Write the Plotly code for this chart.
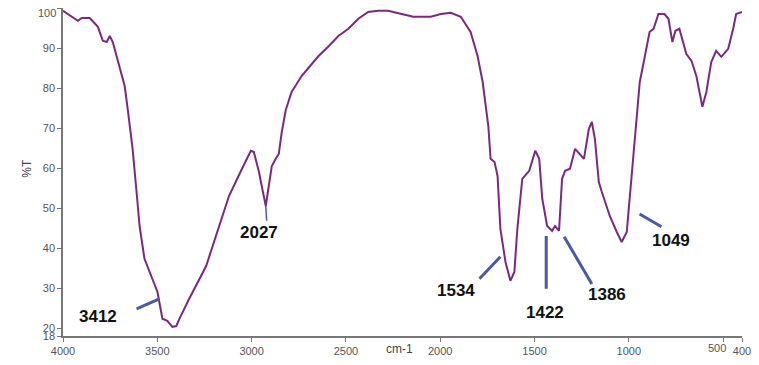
import plotly.graph_objects as go

# Wavenumber (cm-1) and transmittance (%T)
wavenumber = [4000, 3921, 3900, 3858, 3815, 3789, 3768, 3752, 3736, 3700, 3673, 3657, 3631,
              3610, 3594, 3568, 3541, 3499, 3473, 3447, 3420, 3399, 3383, 3331, 3241, 3172, 3120,
              3051, 3025, 3004, 2988, 2961, 2940, 2925, 2909, 2893, 2872, 2856, 2840, 2819,
              2788, 2751, 2735, 2690, 2645, 2590, 2540, 2487, 2434, 2382, 2329, 2276, 2208,
              2144, 2050, 1997, 1944, 1891, 1839, 1802, 1775, 1760, 1745, 1733, 1712, 1696,
              1681, 1654, 1628, 1607, 1591, 1565, 1528, 1496, 1475, 1459, 1433, 1407, 1391,
              1370, 1354, 1338, 1312, 1285, 1259, 1238, 1212, 1196, 1180, 1159, 1143, 1101,
              1064, 1038, 1011, 995, 974, 958, 942, 921, 890, 869, 843, 811, 790, 769, 753,
              732, 711, 695, 668, 642, 610, 589, 563, 537, 510, 473, 447, 431, 400]
transmittance = [99.3, 96.8, 97.5, 97.5, 95.3, 91.8, 91.5, 93.0, 91.5, 84.8, 80.5, 74.8, 64.8,
                 54.0, 45.5, 37.3, 34.0, 29.0, 22.3, 21.8, 20.3, 20.5, 22.3, 27.3, 35.5, 45.5, 53.0,
                 59.8, 62.3, 64.3, 64.0, 59.0, 54.0, 50.5, 55.5, 60.5, 62.3, 63.5, 69.0, 74.5,
                 79.0, 82.0, 83.0, 85.5, 88.0, 90.5, 93.0, 94.8, 97.3, 99.0, 99.3, 99.3, 98.5,
                 97.8, 97.8, 98.5, 98.8, 97.8, 94.0, 88.0, 81.5, 76.0, 70.5, 62.3, 61.5, 58.0,
                 44.8, 36.5, 31.8, 34.0, 44.8, 57.3, 59.3, 64.3, 62.3, 52.3, 45.5, 44.3, 45.5,
                 44.3, 57.3, 59.3, 59.8, 64.8, 63.5, 62.3, 69.8, 71.5, 67.3, 56.5, 54.0, 48.0,
                 44.0, 41.5, 44.0, 53.0, 64.8, 72.0, 81.5, 86.5, 94.0, 94.8, 98.5, 98.5, 97.3,
                 91.5, 94.3, 94.8, 91.5, 88.5, 86.8, 83.0, 75.3, 79.0, 86.5, 89.3, 87.8, 89.8,
                 94.8, 98.5, 99.0]

# Peak labels: text, label position, leader line start/end (data units)
peak_labels = ["3412", "2027", "1534", "1422", "1386", "1049"]
label_x = [3816, 2962, 1918, 1444, 1117, 774]
label_y = [22.8, 44.0, 29.3, 24.0, 28.5, 41.8]
line_x0 = [3610, 2925, 1792, 1438, 1343, 943]
line_y0 = [24.8, 50.5, 32.3, 43.0, 42.8, 48.5]
line_x1 = [3489, 2920, 1681, 1438, 1196, 827]
line_y1 = [27.3, 46.8, 37.8, 29.8, 31.0, 45.3]
line_width = [3, 1.5, 3, 3, 3, 3]

x_ticks = [4000, 3500, 3000, 2500, 2000, 1500, 1000, 500, 400]
y_ticks = [18, 20, 30, 40, 50, 60, 70, 80, 90, 100]

FONT = "Liberation Sans, Arial"
TICK_FONT = dict(family=FONT, size=11, color="#555555")

fig = go.Figure()
fig.add_trace(go.Scatter(x=wavenumber, y=transmittance, mode="lines",
                         line=dict(color="#7a2a7e", width=2), showlegend=False,
                         hoverinfo="skip"))

for i, t in enumerate(peak_labels):
    fig.add_shape(type="line", xref="x", yref="y",
                  x0=line_x0[i], y0=line_y0[i], x1=line_x1[i], y1=line_y1[i],
                  line=dict(color="#4c5aa6", width=line_width[i]))
    fig.add_annotation(x=label_x[i], y=label_y[i], text="<b>%s</b>" % t, showarrow=False,
                       font=dict(family=FONT, size=17, color="#111111"))

# Top y label drawn slightly below its tick, as in the original
fig.add_annotation(xref="paper", yref="y", x=0, y=y_ticks[-1], xanchor="right", xshift=-5,
                   yshift=-5, text=str(y_ticks[-1]), showarrow=False, font=TICK_FONT)
# "500" label nudged left so it does not run into "400"
fig.add_annotation(xref="x", yref="paper", x=x_ticks[-2], y=0, yanchor="top", xshift=-6,
                   yshift=-4, text=str(x_ticks[-2]), showarrow=False, font=TICK_FONT)

fig.add_annotation(xref="paper", yref="paper", x=0.496, y=0, yanchor="middle", yshift=-13,
                   text="cm-1", showarrow=False, font=dict(family=FONT, size=12, color="#444444"))
fig.add_annotation(xref="paper", yref="paper", x=0, xshift=-45, y=0.51, text="%T", textangle=-90,
                   showarrow=False, font=dict(family=FONT, size=12, color="#444444"))

fig.update_layout(
    width=759, height=365,
    margin=dict(l=63, r=11, t=8, b=28),
    paper_bgcolor="white", plot_bgcolor="white",
    xaxis=dict(range=[4000, 400], tickvals=x_ticks,
               ticktext=[str(v) if v != x_ticks[-2] else "" for v in x_ticks],
               tickangle=0, showgrid=False, zeroline=False, showline=True,
               linecolor="#777777", linewidth=1.5,
               ticks="outside", ticklen=4, tickcolor="#777777", tickfont=TICK_FONT),
    yaxis=dict(range=[18, 100], tickvals=y_ticks,
               ticktext=[str(v) if v != y_ticks[-1] else "" for v in y_ticks],
               showgrid=False, zeroline=False, showline=True, linecolor="#777777", linewidth=1.5,
               ticks="outside", ticklen=4, tickcolor="#777777", tickfont=TICK_FONT),
)

# Remove the default page margin so the figure fills the window exactly
fig.write_html("out.html", config={"displayModeBar": False},
               post_script="document.body.style.margin='0px';")
